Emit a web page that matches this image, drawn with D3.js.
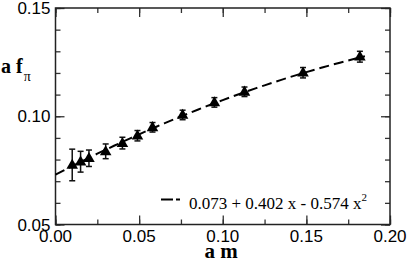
<!DOCTYPE html>
<html>
<head>
<meta charset="utf-8">
<script src="https://cdn.jsdelivr.net/npm/d3@7"></script>
<style>
  body { margin: 0; background: #fff; }
  svg { display: block; }
</style>
</head>
<body>
<div id="chart"></div>
<script>
// data
const am = [0.010, 0.015, 0.020, 0.030, 0.040, 0.049, 0.058, 0.076, 0.095, 0.113, 0.148, 0.182];
const afpi = [0.0775, 0.0790, 0.0806, 0.0838, 0.0876, 0.0910, 0.0949, 0.1006, 0.1064, 0.1113, 0.1201, 0.1275];
const err = [0.0073, 0.0048, 0.0038, 0.0034, 0.0027, 0.0024, 0.0022, 0.0022, 0.0022, 0.0022, 0.0024, 0.0025];
const fitCoef = [0.073, 0.402, -0.574];
const xTicks = [0, 0.05, 0.10, 0.15, 0.20];
const yTicks = [0.05, 0.10, 0.15];

const W = 408, H = 262;
const margin = { top: 8, right: 18, bottom: 37.5, left: 55.5 };
const width = W - margin.left - margin.right;
const height = H - margin.top - margin.bottom;

const svg = d3.select("#chart").append("svg")
  .attr("width", W)
  .attr("height", H);

const g = svg.append("g")
  .attr("transform", `translate(${margin.left},${margin.top})`);

const x = d3.scaleLinear().domain([0, 0.2]).range([0, width]);
const y = d3.scaleLinear().domain([0.05, 0.15]).range([height, 0]);

// ticks on all four sides, pointing in
const xMinor = d3.range(0, 0.2001, 0.025);
const yMinor = d3.range(0.05, 0.1501, 0.01);

function tickAxis(axisFn, scale, vals, len, tr) {
  const a = g.append("g")
    .attr("transform", tr)
    .call(axisFn(scale).tickValues(vals).tickSize(len).tickFormat(""));
  a.select(".domain").remove();
  a.selectAll("line").attr("stroke", "#333").attr("stroke-width", 1.3);
}
tickAxis(d3.axisTop, x, xMinor, 5, `translate(0,${height})`);
tickAxis(d3.axisTop, x, xTicks, 9, `translate(0,${height})`);
tickAxis(d3.axisBottom, x, xMinor, 5, "translate(0,0)");
tickAxis(d3.axisBottom, x, xTicks, 9, "translate(0,0)");
tickAxis(d3.axisRight, y, yMinor, 5, "translate(0,0)");
tickAxis(d3.axisRight, y, yTicks, 9, "translate(0,0)");
tickAxis(d3.axisLeft, y, yMinor, 5, `translate(${width},0)`);
tickAxis(d3.axisLeft, y, yTicks, 9, `translate(${width},0)`);

// frame
g.append("rect")
  .attr("width", width)
  .attr("height", height)
  .attr("fill", "none")
  .attr("stroke", "#222")
  .attr("stroke-width", 1.5);

// tick labels
g.selectAll(".xlab").data(xTicks).enter().append("text")
  .attr("class", "xlab")
  .attr("x", d => x(d))
  .attr("y", height + 17.5)
  .attr("text-anchor", "middle")
  .style("font", "17px 'Liberation Sans', Arial, sans-serif")
  .text(d => d3.format(".2f")(d));

g.selectAll(".ylab").data(yTicks).enter().append("text")
  .attr("class", "ylab")
  .attr("x", -5)
  .attr("y", d => y(d) + 6)
  .attr("text-anchor", "end")
  .style("font", "17px 'Liberation Sans', Arial, sans-serif")
  .text(d => d3.format(".2f")(d));

// axis titles
svg.append("text")
  .attr("x", 221)
  .attr("y", 258)
  .attr("text-anchor", "middle")
  .style("font", "bold 21px 'Liberation Serif', 'Times New Roman', serif")
  .text("a m");

const yt = svg.append("text")
  .attr("x", 1)
  .attr("y", 73)
  .style("font", "bold 20px 'Liberation Serif', 'Times New Roman', serif");
yt.append("tspan").text("a f");
yt.append("tspan")
  .attr("dy", 8)
  .attr("dx", 1)
  .style("font", "14px 'Liberation Serif', 'Times New Roman', serif")
  .text("π");

// fit curve
const fitX = d3.range(0, 0.1851, 0.005);
const fit = v => fitCoef[0] + fitCoef[1] * v + fitCoef[2] * v * v;
const line = d3.line()
  .x(d => x(d))
  .y(d => y(fit(d)));

g.append("path")
  .datum(fitX)
  .attr("d", line)
  .attr("fill", "none")
  .attr("stroke", "#000")
  .attr("stroke-width", 2)
  .attr("stroke-dasharray", "10,5");

// error bars
const pts = am.map((d, i) => ({ x: d, y: afpi[i], e: err[i] }));
const eb = g.selectAll(".err").data(pts).enter().append("g").attr("class", "err")
  .attr("stroke", "#111").attr("stroke-width", 1.5);
eb.append("line")
  .attr("x1", d => x(d.x)).attr("x2", d => x(d.x))
  .attr("y1", d => y(d.y - d.e)).attr("y2", d => y(d.y + d.e));
eb.append("line")
  .attr("x1", d => x(d.x) - 3).attr("x2", d => x(d.x) + 3)
  .attr("y1", d => y(d.y + d.e)).attr("y2", d => y(d.y + d.e));
eb.append("line")
  .attr("x1", d => x(d.x) - 3).attr("x2", d => x(d.x) + 3)
  .attr("y1", d => y(d.y - d.e)).attr("y2", d => y(d.y - d.e));

// markers
g.selectAll(".dot").data(pts).enter().append("path")
  .attr("class", "dot")
  .attr("transform", d => `translate(${x(d.x)},${y(d.y) + 0.5})`)
  .attr("d", d3.symbol().type(d3.symbolTriangle).size(58))
  .attr("fill", "#000");

// legend
svg.append("line")
  .attr("x1", 161).attr("x2", 180)
  .attr("y1", 199.5).attr("y2", 199.5)
  .attr("stroke", "#000")
  .attr("stroke-width", 2)
  .attr("stroke-dasharray", "12,3");

const lt = svg.append("text")
  .attr("x", 189)
  .attr("y", 209)
  .style("font", "17px 'Liberation Serif', 'Times New Roman', serif");
lt.append("tspan").text("0.073 + 0.402 x - 0.574 x");
lt.append("tspan")
  .attr("dy", -8)
  .style("font-size", "11px")
  .text("2");
</script>
</body>
</html>
